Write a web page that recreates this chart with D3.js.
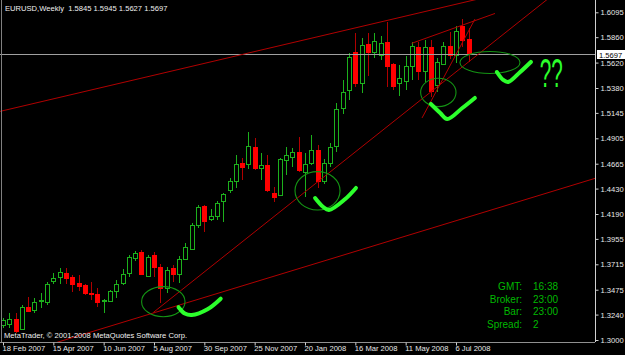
<!DOCTYPE html>
<html>
<head>
<meta charset="utf-8">
<script src="https://cdn.jsdelivr.net/npm/d3@7/dist/d3.min.js"></script>
<style>
  body { margin: 0; background: #000; overflow: hidden; }
  svg { display: block; }
  text { font-family: "Liberation Sans", Arial, sans-serif; }
</style>
</head>
<body>
<div class="chart"></div>
<script>
// EURUSD weekly bars, bar 0 = week of 18 Feb 2007
var barOpen  = [1.3142,1.3151,1.3196,1.3104,1.3315,1.3281,1.3366,1.3356,1.3557,1.3595,
                1.3630,1.3598,1.3536,1.3519,1.3441,1.3434,1.3373,1.3368,1.3463,1.3536,
                1.3630,1.3772,1.3831,1.3607,1.3803,1.3692,1.3488,1.3677,1.3623,1.3762,
                1.3857,1.4083,1.4268,1.4146,1.4171,1.4316,1.4417,1.4505,1.4669,1.4659,
                1.4823,1.4629,1.4653,1.4386,1.4369,1.4700,1.4731,1.4776,1.4590,1.4672,
                1.4797,1.4506,1.4676,1.4832,1.5188,1.5361,1.5723,1.5424,1.5796,1.5723,
                1.5692,1.5812,1.5607,1.5430,1.5443,1.5588,1.5770,1.5541,1.5767,1.5408,
                1.5607,1.5781,1.5696,1.5970,1.5845];
var barHigh  = [1.3208,1.3258,1.3255,1.3331,1.3409,1.3394,1.3441,1.3545,1.3630,1.3677,
                1.3683,1.3614,1.3614,1.3526,1.3551,1.3488,1.3383,1.3472,1.3567,1.3671,
                1.3803,1.3841,1.3850,1.3803,1.3834,1.3715,1.3692,1.3708,1.3793,1.3919,
                1.4108,1.4275,1.4275,1.4234,1.4316,1.4391,1.4527,1.4747,1.4719,1.4969,
                1.4905,1.4769,1.4747,1.4448,1.4716,1.4823,1.4811,1.4917,1.4769,1.4936,
                1.4837,1.4705,1.4863,1.5236,1.5456,1.5708,1.5897,1.5852,1.5897,1.5897,
                1.5871,1.6006,1.5616,1.5597,1.5679,1.5817,1.5817,1.5829,1.5829,1.5668,
                1.5815,1.5909,1.5961,1.6032,1.5945];
var barLow   = [1.3113,1.3111,1.3066,1.3094,1.3274,1.3252,1.3299,1.3331,1.3526,1.3532,
                1.3526,1.3456,1.3463,1.3425,1.3378,1.3315,1.3252,1.3356,1.3400,1.3519,
                1.3592,1.3749,1.3614,1.3598,1.3598,1.3352,1.3441,1.3551,1.3536,1.3756,
                1.3850,1.4055,1.4023,1.4124,1.4133,1.4117,1.4391,1.4433,1.4511,1.4618,
                1.4606,1.4511,1.4401,1.4306,1.4360,1.4558,1.4637,1.4590,1.4353,1.4653,
                1.4433,1.4473,1.4637,1.4776,1.5135,1.5267,1.5392,1.5330,1.5498,1.5661,
                1.5645,1.5390,1.5361,1.5305,1.5361,1.5456,1.5456,1.5440,1.5298,1.5338,
                1.5597,1.5654,1.5613,1.5763,1.5627];
var barClose = [1.3189,1.3196,1.3085,1.3309,1.3277,1.3356,1.3375,1.3526,1.3588,1.3645,
                1.3588,1.3526,1.3510,1.3441,1.3432,1.3356,1.3380,1.3463,1.3526,1.3621,
                1.3781,1.3825,1.3623,1.3787,1.3687,1.3488,1.3661,1.3623,1.3762,1.3876,
                1.4083,1.4253,1.4127,1.4171,1.4291,1.4379,1.4505,1.4662,1.4637,1.4835,
                1.4622,1.4650,1.4412,1.4346,1.4708,1.4745,1.4771,1.4606,1.4662,1.4794,
                1.4505,1.4672,1.4826,1.5179,1.5339,1.5676,1.5424,1.5786,1.5723,1.5824,
                1.5802,1.5588,1.5399,1.5472,1.5588,1.5777,1.5541,1.5770,1.5352,1.5628,
                1.5781,1.5687,1.5923,1.5831,1.5697];

var priceTicks = [1.3000,1.3240,1.3475,1.3715,1.3955,1.4190,1.4430,1.4665,1.4905,1.5145,1.5380,1.5620,1.5860,1.6095];
var dateTickBars = [0,8,16,24,32,40,48,56,64,72];
var dateTickLabels = ["18 Feb 2007","15 Apr 2007","10 Jun 2007","5 Aug 2007","30 Sep 2007",
                      "25 Nov 2007","20 Jan 2008","16 Mar 2008","11 May 2008","6 Jul 2008"];

var symbolTitle = "EURUSD,Weekly";
var lastQuote = [1.5845, 1.5945, 1.5627, 1.5697];   // O H L C of current bar
var bidPrice = 1.5697;
var infoLabels = ["GMT:", "Broker:", "Bar:", "Spread:"];
var infoValues = ["16:38", "23:00", "23:00", "2"];

// trend lines drawn on the chart: [barIndex, price] -> [barIndex, price]
var trendLines = [
    [[-0.48, 1.5159], [76.0, 1.6227]],
    [[64.96, 1.5802], [78.2, 1.6084]],
    [[23.89, 1.3260], [86.78, 1.6230]],
    [[66.6, 1.5097], [75.02, 1.6032]],
    [[8.26, 1.2972], [94.89, 1.4541]]
];
// hand drawn circles: centre bar, centre price, radius in bars, radius in price
var circles = [
    [25.48, 1.3362, 3.45, 0.0142],
    [49.99, 1.4409, 3.58, 0.0181],
    [69.19, 1.5338, 2.81, 0.0134],
    [77.40, 1.5621, 4.77, 0.0104]
];
// hand drawn ticks (bar, price)
var ticks = [
    [[27.9, 1.3310], [28.9, 1.3250], [30.0, 1.3236], [32.5, 1.3290], [34.6, 1.3390]],
    [[49.6, 1.4341], [50.9, 1.4256], [51.8, 1.4228], [54.4, 1.4332], [56.1, 1.4436]],
    [[68.0, 1.5229], [69.5, 1.5144], [70.6, 1.5087], [73.0, 1.5191], [75.0, 1.5286]],
    [[78.5, 1.5531], [79.5, 1.5456], [80.3, 1.5437], [82.2, 1.5531], [83.9, 1.5626]]
];
var questionMark = [85.3, 1.5387];

drawChart();

function drawChart() {
    const width = 625, height = 355;
    const plotRight = 595, plotBottom = 342;
    const bullColor = "#1cb01c", bearBody = "#ff0000", bearWick = "#b00000";
    const lineColor = "#b00000";
    const fontSize = "7.6px";

    let svg = d3.select(".chart").append("svg")
        .attr("width", width).attr("height", height)
        .style("background", "#000");

    let x = d3.scaleLinear().domain([0, 72]).range([3, 456]);
    let y = d3.scaleLinear().domain([1.3, 1.6095]).range([340, 12.3]);
    let px = i => Math.round(x(i)) + 0.5;

    svg.append("clipPath").attr("id", "plotArea")
        .append("rect").attr("x", 0).attr("y", 0).attr("width", plotRight).attr("height", plotBottom);

    let plot = svg.append("g").attr("clip-path", "url(#plotArea)");

    // candles
    let bars = barOpen.map((o, i) => ({ i: i, o: o, h: barHigh[i], l: barLow[i], c: barClose[i] }));
    let candle = plot.append("g").selectAll("g").data(bars).enter().append("g");
    candle.append("line")
        .attr("x1", d => px(d.i)).attr("x2", d => px(d.i))
        .attr("y1", d => Math.round(y(d.h))).attr("y2", d => Math.round(y(d.l)))
        .attr("stroke", d => d.c >= d.o ? bullColor : bearWick);
    candle.filter(d => d.c >= d.o).append("rect")
        .attr("x", d => px(d.i) - 2).attr("width", 4)
        .attr("y", d => Math.round(y(d.c)) + 0.5)
        .attr("height", d => Math.max(1, Math.round(y(d.o)) - Math.round(y(d.c))))
        .attr("fill", "#000").attr("stroke", bullColor);
    candle.filter(d => d.c < d.o).append("rect")
        .attr("x", d => px(d.i) - 2.5).attr("width", 5)
        .attr("y", d => Math.round(y(d.o)))
        .attr("height", d => Math.max(1, Math.round(y(d.c)) - Math.round(y(d.o)) + 1))
        .attr("fill", bearBody);

    // bid line
    plot.append("line")
        .attr("x1", 0).attr("x2", plotRight)
        .attr("y1", Math.round(y(bidPrice)) + 0.5).attr("y2", Math.round(y(bidPrice)) + 0.5)
        .attr("stroke", "#a0a0a0");

    // trend lines
    plot.append("g").selectAll("line").data(trendLines).enter().append("line")
        .attr("x1", d => x(d[0][0])).attr("y1", d => y(d[0][1]))
        .attr("x2", d => x(d[1][0])).attr("y2", d => y(d[1][1]))
        .attr("stroke", lineColor).attr("stroke-width", 1);

    // circles
    plot.append("g").selectAll("ellipse").data(circles).enter().append("ellipse")
        .attr("cx", d => x(d[0])).attr("cy", d => y(d[1]))
        .attr("rx", d => x(d[2]) - x(0)).attr("ry", d => y(0) - y(d[3]))
        .attr("fill", "none").attr("stroke", "#149414").attr("stroke-width", 1.1);

    // hand drawn ticks
    let tickLine = d3.line().x(d => x(d[0])).y(d => y(d[1])).curve(d3.curveCatmullRom);
    plot.append("g").selectAll("path").data(ticks).enter().append("path")
        .attr("d", tickLine)
        .attr("fill", "none").attr("stroke", "#2cff2c").attr("stroke-width", 4)
        .attr("stroke-linecap", "round").attr("stroke-linejoin", "round");

    svg.append("text")
        .attr("x", x(questionMark[0])).attr("y", y(questionMark[1]))
        .attr("font-size", "40px").attr("fill", "#2cff2c")
        .attr("textLength", 23).attr("lengthAdjust", "spacingAndGlyphs")
        .text("??");

    // frame
    svg.append("line").attr("x1", 1.5).attr("x2", 1.5).attr("y1", 0).attr("y2", plotBottom)
        .attr("stroke", "#808080");

    // price axis
    let yAxis = svg.append("g").attr("transform", `translate(${plotRight + 0.5},0)`)
        .call(d3.axisRight(y).tickValues(priceTicks).tickSize(3).tickPadding(2)
            .tickFormat(d3.format(".4f")));
    yAxis.select(".domain").attr("stroke", "#d0d0d0").attr("d", `M0,0V${plotBottom}`);
    yAxis.selectAll(".tick line").attr("stroke", "#d0d0d0");
    yAxis.selectAll(".tick text").attr("fill", "#e8e8e8").attr("font-size", fontSize)
        .attr("font-family", null);

    // date axis
    let xAxis = svg.append("g").attr("transform", `translate(0,${plotBottom + 0.5})`)
        .call(d3.axisBottom(x).tickValues(dateTickBars).tickSize(3).tickPadding(0)
            .tickFormat((d, i) => dateTickLabels[i]));
    xAxis.select(".domain").attr("stroke", "#909090").attr("d", `M0,0H${plotRight}`);
    xAxis.selectAll(".tick line").attr("stroke", "#d0d0d0");
    xAxis.selectAll(".tick text").attr("fill", "#e8e8e8").attr("font-size", fontSize)
        .attr("text-anchor", "start").attr("x", -1).attr("font-family", null);

    // bid label
    let by = Math.round(y(bidPrice));
    svg.append("rect").attr("x", plotRight + 2).attr("y", by - 4).attr("width", 28).attr("height", 9)
        .attr("fill", "#fff");
    svg.append("text").attr("x", plotRight + 4).attr("y", by + 3.5)
        .attr("font-size", fontSize).attr("fill", "#000").text(d3.format(".4f")(bidPrice));

    // header and copyright
    svg.append("text").attr("x", 5).attr("y", 10.5).attr("font-size", fontSize).attr("fill", "#f0f0f0")
        .attr("xml:space", "preserve")
        .text(symbolTitle + "  " + lastQuote.map(d3.format(".4f")).join(" "));
    svg.append("text").attr("x", 4).attr("y", 337.5).attr("font-size", fontSize).attr("fill", "#f0f0f0")
        .text("MetaTrader, \u00a9 2001-2008 MetaQuotes Software Corp.");

    // info block
    let info = svg.append("g").attr("font-size", "10px").attr("fill", "#00b800");
    infoLabels.forEach((lab, i) => {
        info.append("text").attr("x", 522).attr("y", 290 + i * 12.7).attr("text-anchor", "end").text(lab);
        info.append("text").attr("x", 533).attr("y", 290 + i * 12.7).text(infoValues[i]);
    });
}
</script>
</body>
</html>
